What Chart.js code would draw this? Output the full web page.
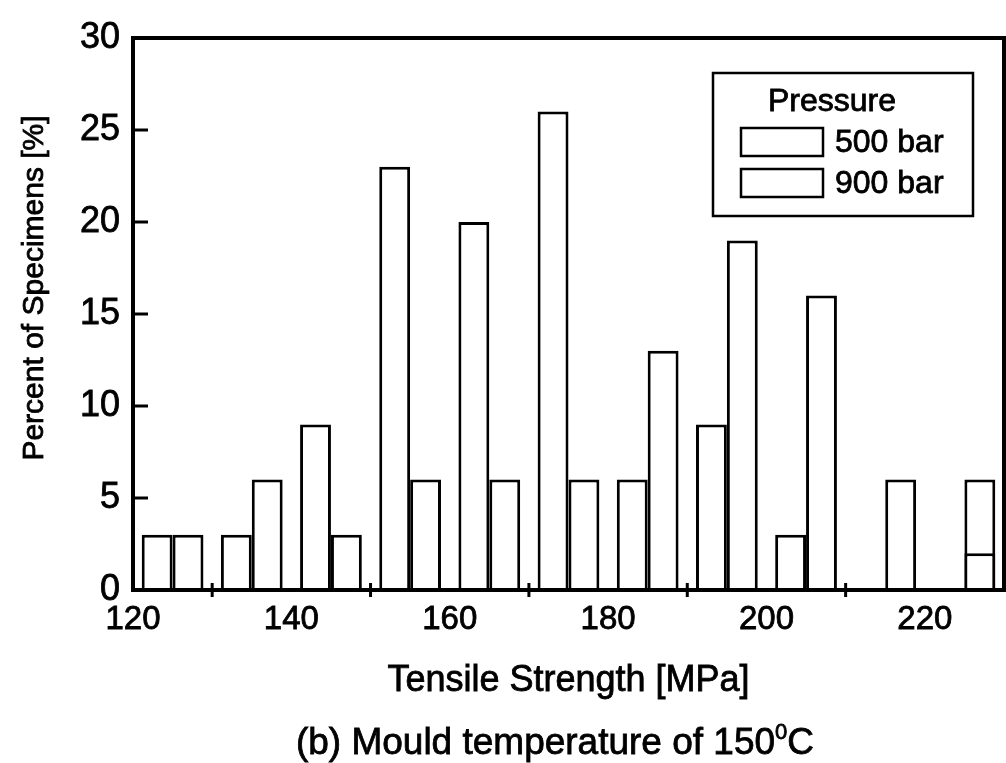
<!DOCTYPE html>
<html>
<head>
<meta charset="utf-8">
<script src="https://cdn.jsdelivr.net/npm/chart.js@4.4.1/dist/chart.umd.min.js"></script>
<style>
  html, body { margin: 0; padding: 0; background: #fff; }
  #wrap { position: relative; width: 1006px; height: 763px; overflow: hidden; }
  #caption {
    position: absolute; left: 52px; top: 720px; width: 1006px;
    text-align: center; font-family: "Liberation Sans", Arial, sans-serif;
    font-size: 37px; color: #000; line-height: 44px; white-space: nowrap;
    -webkit-text-stroke: 0.8px #000;
  }
  #caption sup { font-size: 22px; vertical-align: 15px; line-height: 0; }
</style>
</head>
<body>
<div id="wrap">
  <canvas id="chart" width="1006" height="763"></canvas>
  <div id="caption">(b) Mould temperature of 150<sup>0</sup>C</div>
</div>
<script>
// bin centres of the histogram [MPa]
const bins = [125, 135, 145, 155, 165, 175, 185, 195, 205, 215, 225];
// percent of specimens per bin
const pct500 = [3, 3, 9, 23, 20, 26, 6, 9, 3, 0, 0];
const pct900 = [3, 6, 3, 6, 6, 6, 13, 19, 16, 6, 6];
// the last 900 bar bar is split by an inner line at 2 %
const pct900Split = [null, null, null, null, null, null, null, null, null, null, 2];
const xTickLabels = [120, 140, 160, 180, 200, 220];
const xMinorTicks = [130, 150, 170, 190, 210];
const yTickValues = [0, 5, 10, 15, 20, 25, 30];
const xTitle = "Tensile Strength [MPa]";
const yTitle = "Percent of Specimens [%]";

const FONT = "'Liberation Sans', Arial, sans-serif";

document.addEventListener("DOMContentLoaded", function () {

  const toPoints = (vals) => bins.map((b, i) => ({ x: b, y: vals[i] }));

  const barStyle = {
    backgroundColor: "#fff",
    borderColor: "#000",
    borderWidth: 3,
    borderSkipped: "start",
    categoryPercentage: 0.78,
    barPercentage: 1.0
  };

  function heavyText(ctx, text, x, y) {
    ctx.fillText(text, x, y);
    ctx.strokeText(text, x, y);
  }

  // frame, inward ticks, axis titles and boxed legend
  const framePlugin = {
    id: "frame",
    afterDatasetsDraw(chart) {
      const ctx = chart.ctx;
      const a = chart.chartArea;
      const xs = chart.scales.x, ys = chart.scales.y;
      ctx.save();
      ctx.strokeStyle = "#000";

      ctx.lineWidth = 3;
      yTickValues.forEach(v => {
        if (v === 0 || v === 30) return;
        const y = ys.getPixelForValue(v);
        ctx.beginPath();
        ctx.moveTo(a.left, y);
        ctx.lineTo(a.left + 15, y);
        ctx.stroke();
      });
      xMinorTicks.forEach(v => {
        const x = xs.getPixelForValue(v);
        ctx.beginPath();
        ctx.moveTo(x, a.bottom - 7);
        ctx.lineTo(x, a.bottom + 7);
        ctx.stroke();
      });

      ctx.lineWidth = 4;
      ctx.strokeRect(a.left, a.top, a.right - a.left, a.bottom - a.top);

      ctx.fillStyle = "#000";
      ctx.lineWidth = 0.8;
      ctx.textAlign = "center";
      ctx.textBaseline = "middle";

      // x axis title
      ctx.font = "36px " + FONT;
      heavyText(ctx, xTitle, (a.left + a.right) / 2, a.bottom + 91);

      // y axis title, a little above the middle of the axis
      ctx.translate(35, (a.top + a.bottom) / 2 - 26);
      ctx.rotate(-Math.PI / 2);
      ctx.font = "30px " + FONT;
      heavyText(ctx, yTitle, 0, 0);
      ctx.restore();
    },
    afterDraw(chart) {
      const ctx = chart.ctx;
      const a = chart.chartArea;
      const bx = a.right - 291, by = a.top + 35, bw = 260, bh = 143;
      ctx.save();
      ctx.fillStyle = "#fff";
      ctx.fillRect(bx, by, bw, bh);
      ctx.strokeStyle = "#000";
      ctx.lineWidth = 2.5;
      ctx.strokeRect(bx, by, bw, bh);

      ctx.fillStyle = "#000";
      ctx.font = "32px " + FONT;
      ctx.textAlign = "center";
      ctx.textBaseline = "middle";
      ctx.lineWidth = 0.8;
      heavyText(ctx, "Pressure", bx + 119, by + 29);

      ctx.textAlign = "left";
      chart.data.datasets.slice(0, 2).forEach((ds, i) => {
        const sy = by + 55 + i * 41;
        ctx.lineWidth = 2.5;
        ctx.strokeRect(bx + 28, sy, 82, 28);
        ctx.lineWidth = 0.8;
        heavyText(ctx, ds.label, bx + 122, sy + 15);
      });
      ctx.restore();
    }
  };

  new Chart(document.getElementById("chart"), {
    type: "bar",
    data: {
      datasets: [
        Object.assign({ label: "500 bar", data: toPoints(pct500), stack: "s500", order: -2 }, barStyle),
        Object.assign({ label: "900 bar", data: toPoints(pct900), stack: "s900", order: 0 }, barStyle),
        Object.assign({ label: "900 bar split", data: toPoints(pct900Split), stack: "s900", order: -1 }, barStyle)
      ]
    },
    options: {
      responsive: false,
      animation: false,
      layout: { padding: { top: 38, right: 2, bottom: 53, left: 0 } },
      plugins: {
        legend: { display: false },
        tooltip: { enabled: false }
      },
      scales: {
        x: {
          type: "linear",
          min: 120,
          max: 230,
          offset: false,
          stacked: true,
          grid: {
            display: true, drawOnChartArea: false, drawTicks: true,
            tickLength: 10, color: "rgba(0,0,0,0)", offset: false
          },
          border: { display: false },
          ticks: {
            stepSize: 10,
            padding: 0,
            autoSkip: false,
            maxRotation: 0,
            color: "#000",
            textStrokeColor: "#000",
            textStrokeWidth: 0.8,
            font: { family: FONT, size: 33 },
            callback: (v) => xTickLabels.includes(v) ? String(v) : ""
          },
          afterFit: (s) => { s.height = 120; }
        },
        y: {
          min: 0,
          max: 30,
          stacked: false,
          grid: { display: false, drawTicks: false },
          border: { display: false },
          ticks: {
            stepSize: 5,
            padding: 13,
            color: "#000",
            textStrokeColor: "#000",
            textStrokeWidth: 0.8,
            font: { family: FONT, size: 36 }
          },
          afterFit: (s) => { s.width = 133; }
        }
      }
    },
    plugins: [framePlugin]
  });

});
</script>
</body>
</html>
